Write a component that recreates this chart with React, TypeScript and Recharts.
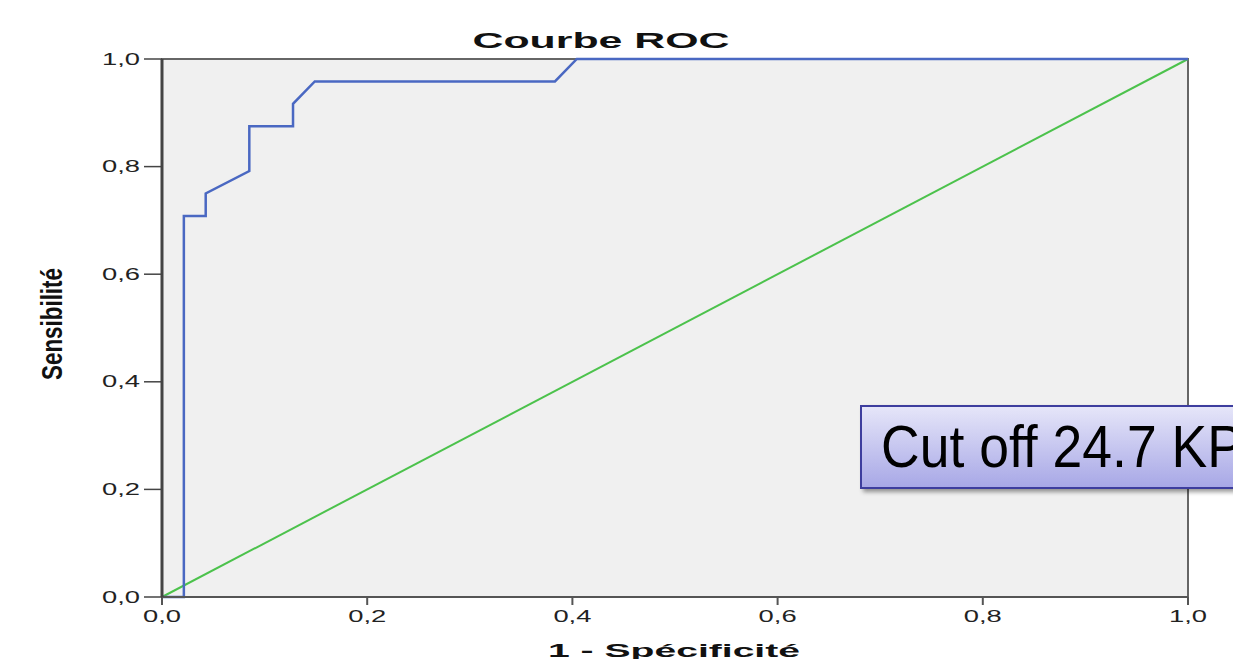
import { LineChart, Line, XAxis, YAxis, ReferenceArea } from 'recharts';

// ROC curve points (1 - specificity, sensitivity)
const fpr = [0, 0.0213, 0.0213, 0.0426, 0.0426, 0.0851, 0.0851, 0.1277, 0.1277, 0.1489, 0.383, 0.4043, 1];
const tpr = [0, 0, 0.7083, 0.7083, 0.75, 0.7917, 0.875, 0.875, 0.9167, 0.9583, 0.9583, 1, 1];
const refX = [0, 1];
const refY = [0, 1];
const ticks = [0, 0.2, 0.4, 0.6, 0.8, 1];

const rocData = fpr.map((x, i) => ({ x, y: tpr[i] }));
const diagData = refX.map((x, i) => ({ x, y: refY[i] }));

const fmt = (v: number) => v.toFixed(1).replace('.', ',');
const FONT = '"Liberation Sans", Arial, sans-serif';

function XTick(props: any) {
  const { x, y, payload } = props;
  return (
    <text x={x} y={y} dy="0.71em" textAnchor="middle" fontFamily={FONT} fontSize={16} fill="#222"
      textLength={38} lengthAdjust="spacingAndGlyphs">
      {fmt(payload.value)}
    </text>
  );
}

function YTick(props: any) {
  const { x, y, payload } = props;
  return (
    <text x={x} y={y} dy="0.35em" textAnchor="end" fontFamily={FONT} fontSize={16} fill="#222"
      textLength={38} lengthAdjust="spacingAndGlyphs">
      {fmt(payload.value)}
    </text>
  );
}

export default function App() {
  return (
    <div style={{ position: 'absolute', left: 0, top: 0, width: 1233, height: 659, overflow: 'hidden', background: '#fff' }}>
      <LineChart width={1233} height={659} data={rocData} margin={{ top: 59, right: 45, bottom: 32, left: 100 }}>
        <XAxis type="number" dataKey="x" domain={[0, 1]} ticks={ticks} tick={<XTick />} tickSize={8} tickMargin={6}
          height={30} axisLine={{ stroke: '#555', strokeWidth: 2 }} tickLine={{ stroke: '#555', strokeWidth: 2 }} />
        <YAxis type="number" dataKey="y" domain={[0, 1]} ticks={ticks} tick={<YTick />} tickSize={18} tickMargin={4}
          width={62} axisLine={{ stroke: '#444', strokeWidth: 3 }} tickLine={{ stroke: '#444', strokeWidth: 1.5 }} />
        <ReferenceArea x1={0} x2={1} y1={0} y2={1} fill="#f0f0f0" fillOpacity={1} stroke="#666" strokeWidth={2} ifOverflow="visible" />
        <Line data={diagData} dataKey="y" type="linear" stroke="#4cc24c" strokeWidth={2} dot={false} isAnimationActive={false} />
        <Line data={rocData} dataKey="y" type="linear" stroke="#4a68c2" strokeWidth={2.5} dot={false} isAnimationActive={false} />
      </LineChart>
      <svg width={1233} height={659} style={{ position: 'absolute', left: 0, top: 0, pointerEvents: 'none' }}>
        <defs>
          <linearGradient id="boxFill" x1="0" y1="0" x2="0" y2="1">
            <stop offset="0%" stopColor="#e6e6f9" />
            <stop offset="100%" stopColor="#a7a7e6" />
          </linearGradient>
          <filter id="shadow" x="-10%" y="-10%" width="130%" height="140%">
            <feDropShadow dx="3" dy="3" stdDeviation="2" floodColor="#000" floodOpacity="0.4" />
          </filter>
        </defs>
        <text x={601} y={48} textAnchor="middle" fontFamily={FONT} fontWeight="bold" fontSize={22} fill="#111"
          textLength={257} lengthAdjust="spacingAndGlyphs">Courbe ROC</text>
        <text x={674} y={657} textAnchor="middle" fontFamily={FONT} fontWeight="bold" fontSize={18} fill="#111"
          textLength={252} lengthAdjust="spacingAndGlyphs">1 - Spécificité</text>
        <text x={62} y={324} transform="rotate(-90, 62, 324)" textAnchor="middle" fontFamily={FONT} fontWeight="bold"
          fontSize={30} fill="#111" textLength={112} lengthAdjust="spacingAndGlyphs">Sensibilité</text>
        <rect x={861} y={406} width={400} height={82} fill="url(#boxFill)" stroke="#3d3d9e" strokeWidth={2} filter="url(#shadow)" />
        <text x={881} y={467} fontFamily={FONT} fontSize={60} fill="#000" textLength={362}
          lengthAdjust="spacingAndGlyphs">Cut off 24.7 KP</text>
      </svg>
    </div>
  );
}
